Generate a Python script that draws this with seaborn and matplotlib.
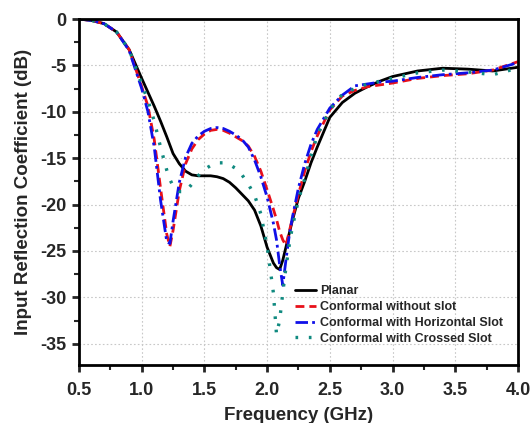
import numpy as np
import pandas as pd
import matplotlib
matplotlib.use('Agg')
import matplotlib.pyplot as plt
from matplotlib.ticker import MultipleLocator
import seaborn as sns

# frequency grid (GHz)
freq = [0.5, 0.6, 0.7, 0.8, 0.9, 1.0, 1.05, 1.1, 1.15, 1.2, 1.225, 1.25, 1.3, 1.35,
        1.4, 1.45, 1.5, 1.55, 1.6, 1.65, 1.7, 1.75, 1.8, 1.85, 1.9, 1.95, 2.0, 2.05,
        2.075, 2.1, 2.125, 2.15, 2.175, 2.2, 2.25, 2.3, 2.35, 2.4, 2.5, 2.6, 2.7,
        2.8, 2.9, 3.0, 3.2, 3.4, 3.6, 3.8, 4.0]

# S11 (dB)
planar = [0, -0.15, -0.5, -1.4, -3.3, -6.4, -7.9, -9.4, -11.0, -12.7, -13.6, -14.5,
          -15.6, -16.4, -16.8, -16.9, -16.9, -16.9, -17.0, -17.2, -17.6, -18.2, -18.9,
          -19.6, -20.6, -22.3, -24.6, -26.3, -26.8, -27.0, -26.0, -24.6, -23.2, -21.8,
          -19.3, -17.5, -15.5, -13.8, -10.6, -9.0, -8.0, -7.3, -6.7, -6.2, -5.6, -5.3,
          -5.4, -5.6, -5.2]
no_slot = [0, -0.15, -0.5, -1.4, -3.3, -7.3, -9.4, -13.0, -18.2, -23.2, -24.5, -22.8,
           -18.5, -15.6, -14.0, -13.0, -12.4, -12.0, -11.9, -12.0, -12.3, -12.7, -13.1,
           -13.7, -14.8, -16.4, -18.4, -20.5, -21.6, -22.9, -23.8, -24.4, -23.0, -21.6,
           -18.9, -16.4, -14.3, -12.6, -9.8, -8.3, -7.7, -7.3, -7.1, -6.9, -6.4, -6.1,
           -5.9, -5.5, -4.6]
horiz_slot = [0, -0.15, -0.5, -1.4, -3.4, -7.5, -10.0, -13.8, -19.5, -24.0, -24.2, -21.8,
              -17.6, -14.9, -13.4, -12.6, -12.1, -11.8, -11.7, -11.8, -12.1, -12.5, -13.0,
              -13.8, -15.2, -17.0, -19.2, -22.0, -23.8, -26.5, -28.7, -26.0, -23.5, -21.5,
              -18.2, -15.6, -13.5, -11.9, -9.6, -8.2, -7.2, -7.0, -6.8, -6.7, -6.3, -6.0,
              -5.8, -5.5, -4.7]
cross_slot = [0, -0.15, -0.5, -1.4, -3.3, -7.0, -8.8, -11.0, -13.8, -16.3, -17.3, -18.0,
              -18.6, -18.6, -17.8, -16.9, -16.2, -15.8, -15.5, -15.5, -15.7, -16.1, -16.8,
              -17.8, -19.0, -21.0, -24.5, -29.5, -34.0, -32.5, -29.5, -26.8, -24.5, -22.5,
              -19.5, -17.2, -14.8, -12.5, -9.8, -8.1, -7.5, -7.0, -6.7, -6.4, -5.8, -5.5,
              -5.7, -6.0, -5.3]

labels = ['Planar', 'Conformal without slot', 'Conformal with Horizontal Slot',
          'Conformal with Crossed Slot']
colors = ['black', '#e8101a', '#1010e8', '#108a80']
styles = ['-', (0, (3.2, 1.8)), (0, (4.5, 1.5, 1, 1.5)), (0, (0.8, 3.2))]
widths = [2.0, 2.0, 2.0, 2.4]

sns.set_style('ticks')
plt.rcParams['font.family'] = ['Liberation Sans', 'DejaVu Sans']
plt.rcParams['font.weight'] = 'bold'
plt.rcParams['axes.unicode_minus'] = False

fig = plt.figure(figsize=(5.32, 4.23), dpi=100)
ax = fig.add_axes([0.1485, 0.137, 0.825, 0.818])

for vals, lab, c, ls, lw in zip([planar, no_slot, horiz_slot, cross_slot],
                                labels, colors, styles, widths):
    df = pd.DataFrame({'f': freq, 's11': vals})
    sns.lineplot(data=df, x='f', y='s11', color=c, linestyle=ls, linewidth=lw,
                 label=lab, ax=ax)

ax.xaxis.set_major_locator(MultipleLocator(0.5))
ax.xaxis.set_minor_locator(MultipleLocator(0.25))
ax.yaxis.set_major_locator(MultipleLocator(5))
ax.yaxis.set_minor_locator(MultipleLocator(2.5))
ax.set_xlim(0.5, 4.0)
ax.set_ylim(-37.3, 0)
ax.xaxis.set_major_formatter(plt.FormatStrFormatter('%.1f'))
ax.yaxis.set_major_formatter(plt.FormatStrFormatter('%d'))
ax.grid(True, which='major', color='#c8c8c8', linestyle=(0, (1.5, 2)), linewidth=0.8)

for s in ax.spines.values():
    s.set_linewidth(2)
    s.set_color('black')
ax.tick_params(which='major', direction='out', length=5, width=2, labelsize=13,
               top=False, right=False, pad=4)
ax.tick_params(axis='x', which='major', pad=7)
ax.tick_params(which='minor', direction='out', length=3.5, width=1.5,
               top=False, right=False)
for t in ax.get_xticklabels() + ax.get_yticklabels():
    t.set_fontweight('bold')

ax.set_xlabel('Frequency (GHz)', fontsize=13.5, fontweight='bold', labelpad=6)
ax.set_ylabel('Input Reflection Coefficient (dB)', fontsize=13.5, fontweight='bold',
              labelpad=6)

ax.legend(loc='upper left', bbox_to_anchor=(0.492, 0.23), frameon=False,
          prop={'weight': 'bold', 'size': 9}, handlelength=1.7, handletextpad=0.3,
          labelspacing=0.3, borderpad=0, borderaxespad=0)

fig.savefig('out.png', dpi=100)
